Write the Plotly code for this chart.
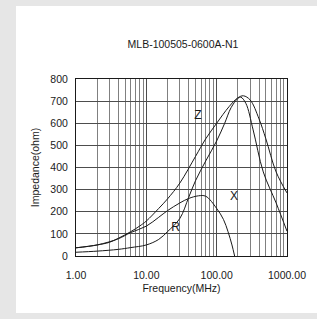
import plotly.graph_objects as go

# ---- data ----
z_freq = [1, 2, 3, 4, 6, 8, 10, 15, 20, 30, 50, 70, 100, 150, 200, 240, 300, 400, 500, 700, 1000]
z_vals = [37, 50, 62, 80, 110, 135, 158, 215, 258, 330, 450, 530, 600, 675, 715, 724, 705, 620, 530, 380, 285]

x_freq = [1, 2, 4, 6, 10, 15, 20, 30, 40, 55, 70, 100, 125, 145, 165, 180]
x_vals = [37, 50, 78, 106, 135, 175, 205, 240, 260, 272, 270, 215, 165, 110, 50, 0]

r_freq = [1, 2, 4, 6, 10, 15, 20, 30, 40, 50, 70, 100, 130, 160, 200, 220, 260, 330, 460, 700, 1000]
r_vals = [17, 22, 30, 38, 50, 75, 110, 170, 265, 340, 430, 520, 600, 670, 712, 718, 690, 570, 380, 240, 112]

x_tick_vals = [1, 10, 100, 1000]
x_tick_text = ["1.00", "10.00", "100.00", "1000.00"]
y_tick_vals = [0, 100, 200, 300, 400, 500, 600, 700, 800]

curve_labels = ["Z", "X", "R"]
label_freq = [54, 177, 26]
label_vals = [635, 265, 125]

title_text = "MLB-100505-0600A-N1"
x_title = "Frequency(MHz)"
y_title = "Impedance(ohm)"

FONT = "Liberation Sans, Arial, sans-serif"
INK = "#1a1a1a"
BG = "#e6e6e6"

fig = go.Figure()
for fx, fy in [(z_freq, z_vals), (x_freq, x_vals), (r_freq, r_vals)]:
    fig.add_trace(go.Scatter(x=fx, y=fy, mode="lines",
                             line=dict(color=INK, width=1, shape="spline", smoothing=1.0),
                             showlegend=False, hoverinfo="skip"))

fig.add_trace(go.Scatter(x=label_freq, y=label_vals, mode="text", text=curve_labels,
                         textfont=dict(family=FONT, size=12, color=INK),
                         showlegend=False, hoverinfo="skip"))

W, H = 317, 319
L, R, T, B = 76, 30, 79, 63
pw, ph = W - L - R, H - T - B

fig.add_shape(type="rect", xref="paper", yref="paper", layer="below",
              x0=(16 - L) / pw, x1=(W + 5 - L) / pw,
              y0=((H - B) - 313) / ph, y1=((H - B) - 6) / ph,
              fillcolor="white", line=dict(width=0))

fig.update_layout(
    width=W, height=H,
    margin=dict(l=L, r=R, t=T, b=B),
    paper_bgcolor=BG,
    plot_bgcolor="white",
    font=dict(family=FONT, color=INK, size=11),
    title=dict(text=title_text, x=183 / W, xanchor="center",
               y=1 - 44 / H, yanchor="middle", font=dict(size=10.5)),
)

fig.update_xaxes(type="log", range=[0, 3],
                 tickvals=x_tick_vals, ticktext=x_tick_text,
                 tickfont=dict(size=10.5), ticklabelstandoff=9,
                 showgrid=True, gridcolor="#4d4d4d", gridwidth=1,
                 minor=dict(dtick="D1", showgrid=True, gridcolor="#808080", gridwidth=1),
                 showline=True, linecolor=INK, linewidth=1, mirror=True,
                 ticks="", zeroline=False,
                 title=dict(text=x_title, font=dict(size=10.5), standoff=5))

fig.update_yaxes(range=[0, 800], tickvals=y_tick_vals,
                 tickfont=dict(size=10.5), ticklabelstandoff=5,
                 showgrid=True, gridcolor="#4d4d4d", gridwidth=1,
                 showline=True, linecolor=INK, linewidth=1, mirror=True,
                 ticks="", zeroline=False,
                 title=dict(text=y_title, font=dict(size=10.5), standoff=8))

fig.write_html("out.html", config={"displayModeBar": False, "staticPlot": True},
               post_script="document.body.style.margin='0';document.body.style.background='%s';" % BG)
